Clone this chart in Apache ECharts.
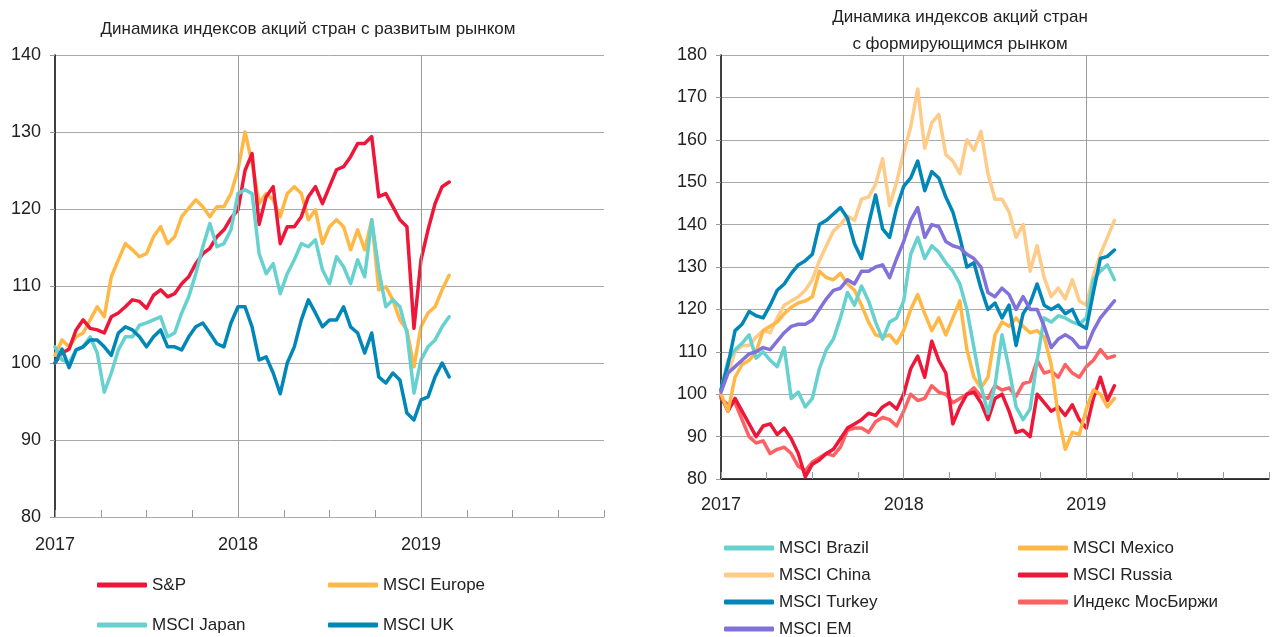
<!DOCTYPE html>
<html>
<head>
<meta charset="utf-8">
<title>Динамика индексов акций</title>
<script src="https://cdn.jsdelivr.net/npm/echarts@6/dist/echarts.min.js"></script>
<style>
  html, body { margin: 0; padding: 0; background: #fff; }
  #chart { width: 1272px; height: 637px; }
</style>
</head>
<body>
<div id="chart"></div>
<script>
// weeks since 2017-01-01, sampled every two weeks
var weeks = [0,2,4,6,8,10,12,14,16,18,20,22,24,26,28,30,32,34,36,38,40,42,44,46,48,50,52,54,56,58,60,62,64,66,68,70,72,74,76,78,80,82,84,86,88,90,92,94,96,98,100,102,104,106,108,110,112];
var yearTicks = [2017, 2018, 2019];

// развитые рынки
var sp     = [100,101.3,101.8,104.3,105.6,104.5,104.3,103.9,106,106.5,107.3,108.2,108,107.1,108.8,109.5,108.6,109,110.3,111.2,112.9,114.2,114.9,116.4,117.3,118.8,119.9,125,127.2,118,121.6,122.9,115.5,117.7,117.7,119,121.6,122.9,120.7,122.9,125.1,125.5,126.8,128.5,128.5,129.4,121.6,122,120.3,118.6,117.7,104.5,113.4,117.3,120.7,122.9,123.5];
var europe = [101,103,102.1,103.4,103.9,105.6,107.3,106,111.2,113.4,115.5,114.7,113.8,114.2,116.4,117.7,115.5,116.4,119,120.1,121.2,120.3,119,120.3,120.3,122,125.1,130,126,120.7,122,121.2,119,122,122.9,122,118.6,119.9,115.5,117.7,118.6,117.7,114.7,117.3,114.7,118.6,109.5,109.9,108.2,105.6,104.3,99.5,104.7,106.5,107.3,109.5,111.4];
var japan  = [102.1,100.4,100,101.7,102.1,103.4,101.3,96.2,98.7,101.7,103.4,103.4,104.9,105.2,105.6,106,103.4,103.9,106.5,108.6,111.6,115.1,118.1,115.1,115.5,117.3,122,122.5,122,114.2,111.6,112.9,109,111.6,113.4,115.5,115.1,116,112.1,110.3,113.8,112.5,110.3,113.4,111.2,118.6,112.1,107.3,108.2,107.3,103.9,96.1,100.4,102.1,103,104.7,106];
var uk     = [100,101.8,99.4,101.7,102.1,103,103,102.1,101,103.9,104.7,104.3,103.4,102.1,103.4,104.3,102.1,102.1,101.7,103.4,104.7,105.2,103.9,102.5,102.1,105.2,107.3,107.3,104.7,100.4,100.8,98.7,96,100,102.1,105.6,108.2,106.5,104.7,105.6,105.6,107.3,104.7,103.9,101.3,103.9,98.2,97.4,98.7,97.8,93.5,92.6,95.2,95.6,98.2,100,98.2];

// формирующиеся рынки
var brazil = [101,108,110.5,112,114,108.5,110,108,106.5,111,99,100.5,97,99,106,110.5,113,118,124,121,125.5,122,117,113,117,118,122,133,137,132,135,133.5,131,129,126,120,111,102,95.5,102,114,106,97,94,96.5,108,118,117,118.5,118,117,116.5,118,127,129,130.5,127];
var mexico = [100,96,104,107,108,110,115,116,117,119,120.5,121.5,122,123,129,127.5,127,128.5,126,124.5,121,117,114,113.5,114,112,115,120,123.5,119,115,118,114,118,122,110.5,104,101.5,104,114,117,116,118,116,114.5,115,113.5,107,95,87,91,90.5,96.5,101,100,97,99];
var china  = [101,105,110,111.5,111.5,113.5,115,114.5,118,121,122,123,124.5,127,131.5,135,138.5,140,142,141,146,146.5,149.5,155.5,144.5,150,157,163,172,158,164,166,156.5,155,152,160,157.5,162,152,146,146,143,137,140,129,135,127.5,123,125,122.5,127,122,121,128,133,137,141];
var russia = [99.5,96,99,96,93,90,92.5,93,90.5,92,89.5,86,80.5,83.5,84.5,86,87,89.5,92,93,94,95.5,95,97,98,96.5,100,106,109,104,112.5,108,105,93,97,100,100.5,98,94,99,100,96,91,91.5,90,100,98,96,97,95,97.5,94,92,99,104,98.5,102];
var turkey = [101,107,115,116.5,119.5,118.5,118,121,124.5,126,128.5,130.5,131.5,133,140,141,142.5,144,141.5,135.5,132,140,147,139,137,144,149,151,155,148,152.5,151,146.5,143,137,130,131,125,120,121.5,118,121,111.5,119,121.5,126,121,120,121,119,120,116.5,115.5,124,132,132.5,134];
var moex   = [99,97.5,98,94,90,88.5,89,86,87,87.5,86,83,82,84,85,86,85.5,87.5,91.5,92,92,91,93.5,94.5,94,92.5,96,100,98.5,99,102,100.5,100,98,99,100,101.5,99.5,99,102,101,101.5,99.5,102.5,103,108,105,105.5,104,107,105,104,106.5,108,110.5,108.5,109];
var em     = [100.5,105,106.5,108,109.5,110,111,110.5,112.5,114.5,116,116.5,116.5,117.5,120,122.5,124.5,125,127,126,129,129,130,130.5,127.5,132,136,141,144,137,140,139.5,136,135,134.5,133,132,130,124,123,125,123.5,120,123,120,120,116,111,113,114,113,111,111,115,118,120,122];

var FONT = "'Liberation Sans', Arial, sans-serif";
var TXT = '#222';

function pts(vals) {
    return weeks.map(function (w, i) { return [2017 + w / 52, vals[i]]; });
}

function line(name, vals, color, gi, z) {
    return {
        name: name, type: 'line', xAxisIndex: gi, yAxisIndex: gi,
        data: pts(vals), symbol: 'none', z: z, silent: true,
        emphasis: { disabled: true },
        lineStyle: { color: color, width: 3.5, cap: 'round', join: 'round' },
        itemStyle: { color: color }
    };
}

// vertical year lines (no line at the right edge)
function yearLines(gi) {
    return {
        type: 'line', xAxisIndex: gi, yAxisIndex: gi, data: [], z: 1, silent: true,
        markLine: {
            silent: true, symbol: ['none', 'none'], label: { show: false },
            lineStyle: { color: '#9a9a9a', width: 1, type: 'solid' },
            emphasis: { disabled: true },
            data: yearTicks.slice(1).map(function (y) { return { xAxis: y }; })
        }
    };
}

function xAx(gi, axisColor, axisWidth, margin) {
    return {
        type: 'value', gridIndex: gi, min: 2017, max: 2020, interval: 1,
        axisLine: { lineStyle: { color: axisColor, width: axisWidth } },
        axisTick: { inside: true, length: 7, lineStyle: { color: '#999' } },
        minorTick: { show: true, splitNumber: 4, length: 7, lineStyle: { color: '#999' } },
        splitLine: { show: false },
        axisLabel: {
            color: TXT, fontSize: 18, fontFamily: FONT, margin: margin,
            formatter: function (v) { return yearTicks.indexOf(v) >= 0 ? String(v) : ''; }
        }
    };
}

function yAx(gi, max) {
    return {
        type: 'value', gridIndex: gi, min: 80, max: max, interval: 10,
        axisLine: { show: true, lineStyle: { color: '#000', width: 1.5 } },
        axisTick: { show: true, length: 5, lineStyle: { color: '#999' } },
        splitLine: { lineStyle: { color: '#a8a8a8', width: 1 } },
        axisLabel: { color: TXT, fontSize: 18, fontFamily: FONT, margin: 14 }
    };
}

function legendCol(names, left, top, gap) {
    return {
        data: names, orient: 'vertical', left: left, top: top, height: 200,
        padding: 0, itemGap: gap,
        icon: 'roundRect', itemWidth: 50, itemHeight: 5, selectedMode: false,
        textStyle: { color: TXT, fontSize: 17, fontFamily: FONT, lineHeight: 20 }
    };
}

var titleStyle = { color: TXT, fontSize: 17, fontWeight: 'normal', fontFamily: FONT, lineHeight: 27 };

var chart = echarts.init(document.getElementById('chart'));
chart.setOption({
    animation: false,
    backgroundColor: '#fff',
    title: [
        { text: 'Динамика индексов акций стран с развитым рынком', left: 303, top: 11, textAlign: 'center', textStyle: titleStyle },
        { text: 'Динамика индексов акций стран\nс формирующимся рынком', left: 955, top: -1, textAlign: 'center', textStyle: titleStyle }
    ],
    legend: [
        legendCol(['S&P', 'MSCI Japan'], 97, 575, 20),
        legendCol(['MSCI Europe', 'MSCI UK'], 328, 575, 20),
        legendCol(['MSCI Brazil', 'MSCI China', 'MSCI Turkey', 'MSCI EM'], 724, 538, 7),
        legendCol(['MSCI Mexico', 'MSCI Russia', 'Индекс МосБиржи'], 1018, 538, 7)
    ],
    grid: [
        { left: 55, top: 55, width: 549, height: 462 },
        { left: 721, top: 55, width: 555, height: 424 }
    ],
    xAxis: [xAx(0, '#aaa', 1, 19), xAx(1, '#000', 1.5, 17)],
    yAxis: [yAx(0, 140), yAx(1, 180)],
    series: [
        yearLines(0),
        line('MSCI Europe', europe, '#FFB845', 0, 2),
        line('S&P', sp, '#EE1739', 0, 3),
        line('MSCI Japan', japan, '#66D1CE', 0, 4),
        line('MSCI UK', uk, '#0087B8', 0, 5),

        yearLines(1),
        line('MSCI China', china, '#FFCB88', 1, 2),
        line('Индекс МосБиржи', moex, '#FF6062', 1, 3),
        line('MSCI Russia', russia, '#EE1739', 1, 4),
        line('MSCI Mexico', mexico, '#FFB845', 1, 5),
        line('MSCI Brazil', brazil, '#66D1CE', 1, 6),
        line('MSCI Turkey', turkey, '#0087B8', 1, 7),
        line('MSCI EM', em, '#8071DB', 1, 8)
    ]
});
</script>
</body>
</html>
